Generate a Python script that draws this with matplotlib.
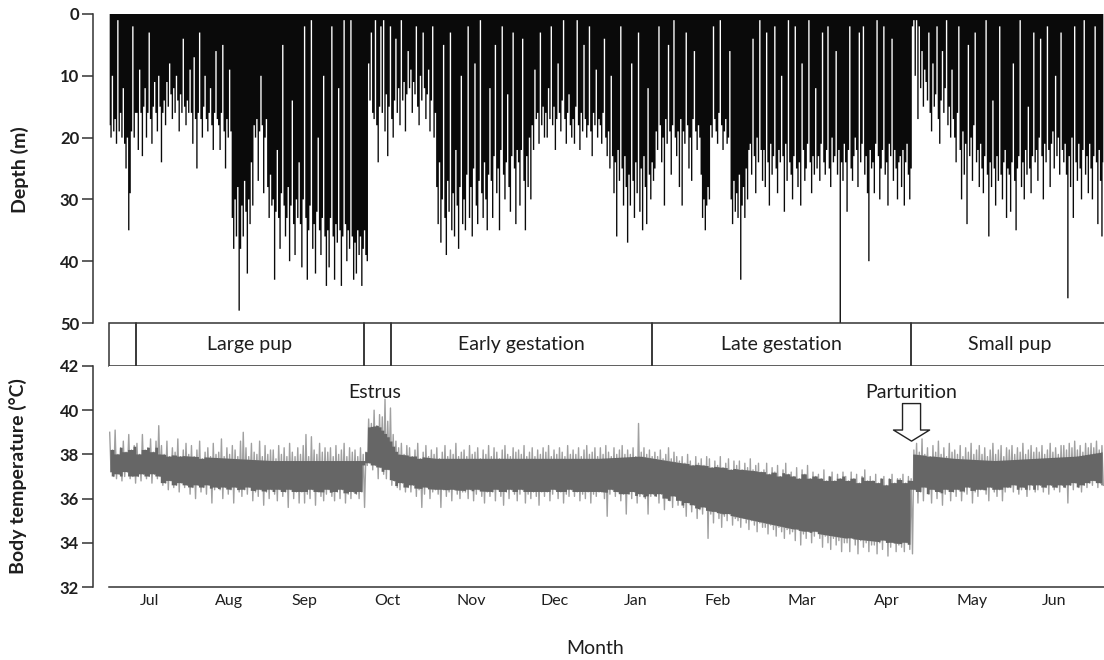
import numpy as np
import matplotlib
matplotlib.use("Agg")
import matplotlib.pyplot as plt
from matplotlib.patches import Rectangle

plt.rcParams['font.family'] = ['Lato', 'DejaVu Sans']

# ---------------- data ----------------
# dive depth (m), one value every 12 h, starting mid-June
depth_m = [
    18, 20, 10, 19, 17, 21, 1, 19, 16, 20, 12, 21, 25, 20, 35, 29, 19, 2, 20, 16,
    16, 22, 9, 16, 23, 15, 12, 20, 16, 3, 17, 21, 15, 11, 16, 19, 10, 15, 24, 16,
    14, 18, 11, 15, 8, 13, 17, 12, 16, 10, 14, 19, 13, 16, 4, 15, 18, 14, 16, 9,
    16, 21, 7, 17, 25, 16, 3, 17, 20, 15, 10, 17, 19, 16, 12, 18, 22, 16, 6, 17,
    18, 22, 16, 5, 19, 25, 17, 20, 9, 19, 33, 38, 30, 36, 28, 48, 38, 31, 36, 27,
    32, 42, 30, 34, 24, 31, 18, 20, 17, 27, 19, 10, 18, 29, 20, 17, 28, 33, 26, 31,
    30, 43, 32, 22, 33, 38, 29, 5, 31, 36, 33, 28, 40, 31, 14, 34, 39, 30, 33, 24,
    34, 41, 30, 2, 33, 43, 35, 31, 1, 38, 34, 42, 32, 20, 35, 39, 33, 10, 36, 44,
    35, 41, 33, 2, 36, 43, 34, 37, 12, 35, 44, 36, 1, 34, 40, 35, 38, 1, 36, 43,
    37, 42, 35, 39, 36, 44, 38, 35, 39, 40, 8, 14, 3, 16, 17, 1, 18, 24, 15, 2,
    16, 1, 19, 13, 23, 15, 2, 17, 20, 14, 4, 16, 12, 18, 1, 14, 11, 19, 13, 6,
    12, 9, 16, 11, 13, 2, 15, 18, 10, 14, 3, 12, 17, 13, 9, 19, 14, 2, 20, 16,
    28, 34, 24, 37, 30, 5, 33, 39, 27, 32, 3, 35, 29, 36, 22, 31, 38, 28, 10, 34,
    30, 35, 26, 2, 33, 28, 36, 25, 8, 31, 34, 27, 1, 29, 33, 24, 30, 35, 26, 12,
    27, 33, 23, 5, 29, 25, 35, 22, 2, 26, 30, 24, 13, 28, 32, 23, 3, 25, 34, 22,
    24, 31, 22, 4, 27, 35, 23, 28, 20, 30, 18, 22, 9, 17, 16, 21, 3, 18, 15, 20,
    16, 20, 12, 17, 2, 18, 15, 22, 17, 8, 16, 19, 14, 1, 17, 21, 16, 13, 18, 20,
    17, 21, 15, 1, 18, 22, 16, 19, 5, 17, 20, 18, 2, 19, 23, 16, 18, 9, 20, 17,
    18, 21, 16, 4, 20, 23, 19, 25, 10, 23, 29, 24, 36, 22, 27, 2, 25, 31, 23, 28,
    37, 26, 31, 8, 27, 33, 24, 29, 3, 32, 25, 35, 23, 28, 34, 12, 26, 30, 24, 27,
    25, 19, 22, 2, 18, 24, 20, 31, 17, 21, 5, 19, 26, 18, 1, 20, 23, 19, 28, 17,
    31, 19, 21, 3, 18, 25, 20, 27, 17, 6, 19, 22, 18, 20, 26, 33, 30, 35, 31, 28,
    30, 18, 20, 2, 17, 19, 21, 16, 1, 18, 22, 19, 17, 21, 20, 6, 30, 34, 27, 32,
    29, 33, 26, 43, 31, 28, 33, 25, 30, 22, 21, 26, 4, 23, 29, 20, 24, 1, 22, 27,
    22, 28, 3, 24, 31, 21, 26, 23, 2, 25, 29, 22, 24, 10, 23, 32, 21, 27, 1, 24,
    26, 30, 23, 2, 25, 28, 24, 31, 8, 22, 27, 25, 21, 1, 24, 29, 23, 26, 12, 25,
    23, 27, 21, 3, 24, 26, 22, 2, 25, 28, 20, 24, 23, 6, 26, 22, 50, 24, 27, 21,
    24, 32, 22, 2, 25, 27, 23, 20, 22, 28, 3, 24, 21, 2, 26, 23, 29, 40, 22, 25,
    24, 29, 21, 1, 23, 30, 25, 22, 2, 26, 24, 31, 21, 23, 4, 27, 22, 25, 30, 24,
    23, 28, 22, 31, 24, 21, 26, 30, 25, 2, 1, 10, 1, 17, 2, 12, 6, 15, 9, 11,
    14, 3, 16, 19, 8, 15, 13, 2, 17, 21, 14, 6, 16, 12, 1, 18, 15, 20, 9, 17,
    20, 24, 16, 2, 22, 30, 19, 26, 21, 34, 5, 23, 20, 27, 18, 3, 24, 22, 28, 21,
    25, 29, 23, 1, 26, 36, 24, 28, 14, 25, 31, 23, 27, 2, 26, 30, 24, 22, 33, 25,
    26, 32, 24, 8, 27, 35, 25, 23, 1, 28, 24, 30, 22, 26, 15, 25, 29, 23, 3, 24,
    22, 27, 20, 4, 23, 30, 21, 24, 2, 22, 28, 21, 19, 25, 10, 23, 20, 26, 3, 22,
    24, 21, 26, 46, 23, 28, 20, 33, 2, 24, 27, 21, 25, 30, 22, 1, 26, 23, 29, 21,
    25, 30, 23, 2, 24, 34, 22, 27, 36, 24,
]

# daily maximum / minimum body temperature (deg C)
temp_max = [
    39.0, 38.2, 39.1, 38.0, 38.3, 38.6, 38.1, 38.9, 38.2, 38.4,
    38.5, 38.0, 38.9, 38.2, 38.3, 38.7, 38.1, 38.6, 39.3, 38.4,
    38.0, 38.6, 37.9, 38.3, 38.1, 38.7, 37.9, 38.2, 38.5, 38.0,
    38.4, 37.9, 38.2, 38.6, 37.8, 38.1, 38.3, 37.9, 38.5, 38.0,
    38.1, 38.7, 37.9, 38.3, 38.0, 38.4, 38.2, 37.9, 38.6, 39.0,
    38.3, 37.9, 38.5, 38.1, 38.0, 38.6, 37.9, 38.4, 38.0, 38.2,
    38.2, 37.8, 38.4, 38.0, 38.3, 37.9, 38.5, 38.1, 37.9, 38.3,
    38.0, 38.4, 38.9, 37.9, 38.8, 38.2, 38.0, 38.5, 38.1, 38.3,
    38.1, 38.3, 37.9, 38.4, 38.0, 38.2, 38.5, 37.9, 38.3, 38.1,
    38.2, 37.9, 38.3, 38.0, 38.1, 39.6, 39.4, 40.0, 39.3, 39.8,
    39.7, 40.5, 39.5, 40.1, 38.9, 38.6, 38.3, 38.5, 38.0, 38.4,
    38.3, 37.9, 38.2, 38.5, 37.8, 38.1, 38.4, 37.9, 38.2, 38.0,
    38.3, 37.8, 38.1, 38.4, 37.9, 38.2, 38.0, 38.5, 37.9, 38.1,
    38.2, 37.9, 38.4, 38.0, 38.1, 38.3, 37.8, 38.2, 38.0, 38.4,
    37.9, 38.3, 38.1, 37.8, 38.2, 38.4, 38.0, 37.9, 38.3, 38.1,
    38.2, 38.0, 38.4, 37.9, 38.1, 38.3, 37.9, 38.2, 38.0, 38.3,
    38.1, 38.4, 37.9, 38.2, 38.0, 38.3, 38.1, 37.9, 38.4, 38.0,
    38.2, 38.0, 38.3, 37.9, 38.2, 38.4, 38.0, 38.1, 38.3, 37.9,
    38.3, 38.0, 38.4, 38.1, 37.9, 38.3, 38.0, 38.2, 38.4, 38.0,
    38.2, 38.0, 38.3, 37.9, 39.4, 38.1, 38.3, 38.0, 38.2, 37.9,
    38.1, 37.9, 38.2, 37.8, 38.0, 38.3, 37.8, 38.1, 37.9, 37.7,
    37.9, 37.6, 38.0, 37.7, 37.5, 37.9, 37.6, 37.8, 37.5, 37.9,
    37.8, 37.4, 37.7, 37.5, 37.9, 37.4, 37.6, 37.8, 37.3, 37.7,
    37.5, 37.7, 37.3, 37.6, 37.4, 37.8, 37.3, 37.5, 37.6, 37.2,
    37.3, 37.6, 37.1, 37.4, 37.2, 37.5, 37.0, 37.3, 37.6, 37.1,
    37.2, 37.0, 37.4, 36.9, 37.3, 37.1, 37.5, 36.9, 37.2, 37.0,
    37.1, 36.9, 37.3, 36.8, 37.0, 37.2, 36.8, 37.1, 36.9, 37.2,
    37.0, 36.8, 37.2, 36.9, 37.1, 36.7, 37.0, 37.3, 36.8, 37.0,
    36.8, 37.1, 36.7, 36.9, 37.0, 36.6, 36.9, 37.1, 36.7, 36.9,
    36.9, 37.1, 36.7, 37.0, 36.9, 38.2, 38.5, 38.1, 38.7, 38.0,
    38.3, 37.9, 38.4, 38.1, 38.6, 38.0, 38.3, 37.9, 38.5, 38.1,
    38.2, 38.0, 38.4, 37.9, 38.3, 38.1, 38.5, 38.0, 38.2, 38.4,
    38.0, 38.3, 37.9, 38.2, 38.5, 38.0, 38.2, 38.4, 37.9, 38.3,
    38.2, 38.4, 38.0, 38.3, 38.1, 38.5, 38.0, 38.2, 38.4, 38.1,
    38.3, 38.1, 38.4, 38.0, 38.2, 38.5, 38.1, 38.3, 38.0, 38.4,
    38.4, 38.2, 38.5, 38.3, 38.6, 38.2, 38.4, 38.1, 38.5, 38.3,
    38.5, 38.3, 38.6, 38.2, 38.4,
]
temp_min = [
    37.2, 37.0, 36.9, 37.1, 36.8, 37.0, 37.2, 36.9, 37.0, 36.7,
    37.0, 36.8, 37.1, 36.9, 37.0, 36.7, 37.1, 36.9, 37.0, 36.6,
    36.7, 36.4, 36.8, 36.5, 36.6, 36.3, 36.7, 36.5, 36.6, 36.2,
    36.5, 36.0, 36.6, 36.3, 36.5, 36.2, 36.6, 35.8, 36.4, 36.5,
    36.4, 36.0, 36.5, 36.2, 36.4, 35.8, 36.5, 36.3, 36.1, 36.4,
    36.2, 36.5, 35.9, 36.3, 36.1, 36.4, 35.7, 36.3, 36.0, 36.4,
    36.2, 35.9, 36.4, 36.1, 36.3, 35.6, 36.4, 36.0, 36.3, 35.8,
    36.3, 35.8, 36.2, 36.0, 36.4, 35.7, 36.3, 36.1, 35.9, 36.2,
    36.4, 36.1, 35.9, 36.3, 36.0, 36.4, 35.8, 36.2, 36.0, 36.3,
    36.2, 36.0, 36.3, 35.6, 37.5, 37.6, 37.3, 37.5, 36.9, 37.4,
    37.1, 36.9, 37.3, 36.6, 36.8, 36.5, 36.4, 36.7, 36.3, 36.5,
    36.3, 36.6, 36.1, 36.4, 35.6, 36.2, 36.5, 36.0, 36.3, 36.4,
    36.2, 35.6, 36.4, 36.1, 36.3, 35.9, 36.4, 36.2, 36.0, 36.3,
    36.3, 36.0, 36.4, 35.9, 36.2, 36.4, 36.1, 35.8, 36.3, 36.1,
    36.3, 35.9, 36.4, 36.1, 35.7, 36.3, 36.0, 36.4, 36.2, 35.9,
    36.2, 36.4, 35.8, 36.2, 36.0, 36.3, 36.1, 35.7, 36.3, 36.1,
    36.3, 35.9, 36.2, 36.4, 36.0, 36.3, 35.8, 36.2, 36.1, 36.4,
    36.1, 36.3, 35.9, 36.2, 36.0, 36.3, 35.8, 36.2, 36.1, 36.3,
    36.3, 36.0, 35.2, 36.2, 36.4, 36.1, 36.3, 35.9, 36.2, 35.3,
    36.2, 36.0, 36.3, 35.8, 36.1, 36.2, 36.0, 35.3, 36.1, 36.2,
    36.1, 35.8, 36.2, 35.5, 36.0, 35.9, 35.6, 36.1, 35.7, 35.9,
    35.6, 35.2, 35.8, 35.4, 35.7, 35.1, 35.5, 35.3, 35.6, 34.2,
    35.3, 34.9, 35.4, 35.1, 34.7, 35.2, 35.0, 35.3, 34.8, 35.1,
    35.0, 34.7, 35.1, 34.9, 34.6, 35.0, 34.8, 34.5, 34.9, 34.7,
    34.7, 34.4, 34.8, 34.6, 34.3, 34.7, 34.5, 34.2, 34.6, 34.4,
    34.5, 34.1, 34.6, 33.9, 34.4, 34.2, 34.5, 34.0, 34.3, 34.5,
    34.2, 33.8, 34.3, 34.0, 33.7, 34.2, 33.9, 34.1, 33.6, 34.0,
    34.0, 33.6, 34.2, 33.9, 33.5, 34.1, 33.8, 34.0, 33.6, 33.9,
    33.9, 33.5, 34.0, 33.7, 34.1, 33.4, 33.8, 34.0, 33.6, 33.9,
    33.8, 33.6, 34.0, 33.7, 33.5, 36.4, 35.8, 36.3, 35.9, 36.5,
    36.2, 35.8, 36.4, 36.0, 36.3, 35.7, 36.2, 36.4, 35.9, 36.3,
    36.1, 36.4, 35.9, 36.3, 36.2, 36.5, 35.8, 36.3, 36.1, 36.4,
    36.4, 36.2, 35.9, 36.5, 36.3, 36.1, 36.4, 35.9, 36.3, 36.5,
    36.5, 36.3, 36.6, 36.2, 36.4, 36.5, 36.1, 36.4, 36.6, 36.3,
    36.4, 36.6, 36.3, 36.5, 36.2, 36.6, 36.4, 36.5, 36.3, 36.6,
    36.5, 35.8, 36.6, 36.4, 36.7, 36.5, 36.3, 36.6, 36.5, 36.7,
    36.6, 36.8, 36.5, 36.7, 36.6,
]

# edges of the dense (dark) part of the temperature trace
core_days = [0, 18, 18.5, 30, 45, 60, 75, 94, 94.5, 99, 103, 106, 120, 140, 160, 180,
             195, 210, 225, 240, 255, 270, 285, 294.5, 295, 310, 325, 340, 355, 365]
core_upper = [38.3, 38.2, 37.9, 37.8, 37.7, 37.6, 37.6, 37.6, 39.1, 39.2, 38.6, 37.9,
              37.7, 37.7, 37.7, 37.7, 37.8, 37.5, 37.3, 37.1, 37.0, 36.9, 36.8, 36.7,
              37.9, 37.7, 37.6, 37.7, 37.8, 38.0]
core_lower = [37.0, 37.0, 36.7, 36.6, 36.5, 36.4, 36.4, 36.3, 37.6, 37.5, 37.0, 36.6,
              36.5, 36.4, 36.4, 36.4, 36.2, 35.8, 35.4, 35.0, 34.6, 34.3, 34.1, 34.0,
              36.2, 36.4, 36.5, 36.5, 36.6, 36.7]

months = ['Jul', 'Aug', 'Sep', 'Oct', 'Nov', 'Dec', 'Jan', 'Feb', 'Mar', 'Apr', 'May', 'Jun']
month_days = [14.7, 44.2, 71.7, 102.2, 132.8, 163.6, 193.0, 223.2, 254.2, 285.2, 316.7, 346.8]

phase_names = ['', 'Large pup', '', 'Early gestation', 'Late gestation', 'Small pup']
phase_edges = [0, 9.9, 93.5, 103.4, 199.2, 294.2, 367]

estrus_day = 97.5
parturition_day = 294.4

# ---------------- layout ----------------
W, H = 1104, 660
fig = plt.figure(figsize=(W / 100, H / 100), dpi=100)


def box(x0, y0, x1, y1):
    return [x0 / W, 1 - y1 / H, (x1 - x0) / W, (y1 - y0) / H]


ax_d = fig.add_axes(box(109, 14, 1104, 323))
ax_p = fig.add_axes(box(109, 323, 1104, 366))
ax_t = fig.add_axes(box(109, 366, 1104, 587))

SPINE = '#333333'
TXT = '#1e1e1e'
XMAX = 365

# ---------------- depth panel ----------------
depth = np.asarray(depth_m, dtype=float)
xd = (np.arange(len(depth)) + 0.5) * 0.5
ax_d.fill_between(xd, 0, depth, step='mid', facecolor='#0a0a0a', edgecolor='none',
                  linewidth=0)
ax_d.set_xlim(0, XMAX)
ax_d.set_ylim(50, 0)
ax_d.set_yticks([0, 10, 20, 30, 40, 50])
ax_d.set_xticks([])
for s in ['top', 'right', 'bottom']:
    ax_d.spines[s].set_visible(False)
ax_d.spines['left'].set_position(('outward', 11.5))
ax_d.spines['left'].set_color(SPINE)
ax_d.spines['left'].set_linewidth(1.1)
ax_d.tick_params(axis='y', length=8, width=1.1, color=SPINE, pad=2,
                 labelsize=12, labelcolor=TXT)
for lab in ax_d.get_yticklabels():
    lab.set_fontweight('bold')

# ---------------- phase band ----------------
ax_p.set_xlim(0, XMAX)
ax_p.set_ylim(0, 1)
ax_p.axis('off')
for name, e0, e1 in zip(phase_names, phase_edges[:-1], phase_edges[1:]):
    ax_p.add_patch(Rectangle((e0, 0), e1 - e0, 1, fill=False, edgecolor=SPINE,
                             linewidth=1.1, clip_on=False))
    if name:
        ax_p.text((e0 + e1) / 2, 0.5, name, ha='center', va='center',
                  fontsize=14, color=TXT)

# ---------------- temperature panel ----------------
tmax = np.asarray(temp_max)
tmin = np.asarray(temp_min)
temps = np.column_stack([tmax, tmin]).ravel()
xt = (np.arange(len(temps)) + 0.5) * 0.5
ax_t.plot(xt, temps, color='#a0a0a0', linewidth=1.0, zorder=2)

# dense part: bounded by the read band edges, made ragged by the daily extremes
xday = np.arange(len(tmax)) + 0.5
up_env = np.interp(xday, core_days, core_upper) + 0.1
lo_env = np.interp(xday, core_days, core_lower) - 0.1
nxt_max = np.r_[tmax[1:], tmax[-1]]
nxt_min = np.r_[tmin[1:], tmin[-1]]
core_hi = np.minimum(up_env, np.minimum(tmax, nxt_max))
core_lo = np.maximum(lo_env, np.maximum(tmin, nxt_min))
core_lo = np.minimum(core_lo, core_hi)
ax_t.fill_between(xday, core_lo, core_hi, step='mid', facecolor='#666666',
                  edgecolor='none', linewidth=0, zorder=3)

ax_t.set_xlim(0, XMAX)
ax_t.set_ylim(32, 42)
ax_t.set_yticks([32, 34, 36, 38, 40, 42])
ax_t.set_xticks(month_days)
ax_t.set_xticklabels(months)
for s in ['top', 'right']:
    ax_t.spines[s].set_visible(False)
ax_t.spines['left'].set_position(('outward', 11.5))
for s in ['left', 'bottom']:
    ax_t.spines[s].set_color(SPINE)
    ax_t.spines[s].set_linewidth(1.1)
ax_t.tick_params(axis='y', length=8, width=1.1, color=SPINE, pad=2,
                 labelsize=12, labelcolor=TXT)
for lab in ax_t.get_yticklabels():
    lab.set_fontweight('bold')
ax_t.tick_params(axis='x', length=0, pad=5, labelsize=11.5, labelcolor=TXT)

ax_t.text(estrus_day, 40.78, 'Estrus', ha='center', va='center', fontsize=14, color=TXT)
ax_t.text(parturition_day, 40.78, 'Parturition', ha='center', va='center', fontsize=14,
          color=TXT)
ax_t.annotate('', xy=(parturition_day, 38.6), xytext=(parturition_day, 40.3),
              arrowprops=dict(arrowstyle='simple,head_length=0.8,head_width=2.6,tail_width=1.3',
                              facecolor='white', edgecolor='#222222', linewidth=1.0,
                              shrinkA=0, shrinkB=0))

# ---------------- axis titles ----------------
fig.text(20 / W, 1 - 170 / H, 'Depth (m)', rotation=90, ha='center', va='center',
         fontsize=14, fontweight='bold', color=TXT)
fig.text(18 / W, 1 - 476 / H, 'Body temperature (°C)', rotation=90, ha='center',
         va='center', fontsize=14, fontweight='bold', color=TXT)
fig.text(595 / W, 1 - 648 / H, 'Month', ha='center', va='center', fontsize=14,
         color=TXT)

fig.savefig('out.png', dpi=100)
